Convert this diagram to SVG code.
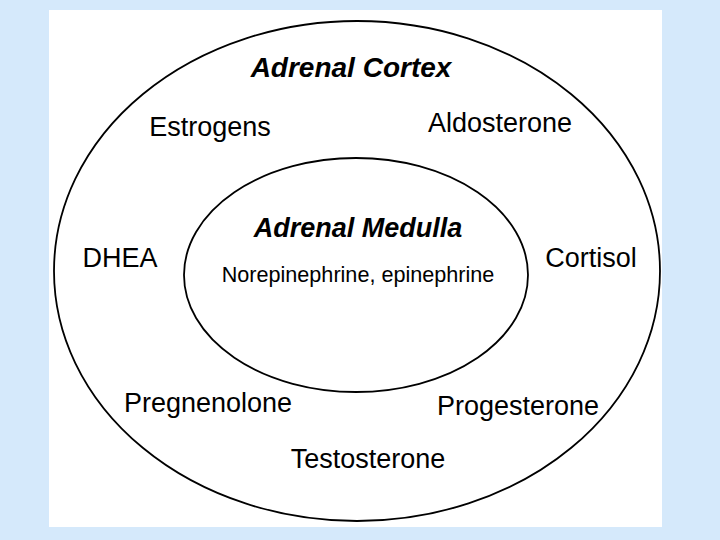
<svg xmlns="http://www.w3.org/2000/svg" width="720" height="540" viewBox="0 0 720 540">
<style>
.t{font-family:"Liberation Sans",Arial,sans-serif;font-size:27px;fill:#000;text-anchor:middle}
.h{font-family:"Liberation Sans",Arial,sans-serif;font-weight:bold;font-style:italic;fill:#000;text-anchor:middle}
.e{fill:none;stroke:#000;stroke-width:1.8}
</style>
<rect x="0" y="0" width="720" height="540" fill="#d5e9fb"/>
<rect x="49" y="10" width="613" height="517" fill="#ffffff"/>
<g id="cortex">
<ellipse class="e" cx="357" cy="271" rx="303" ry="250"/>
<text class="h" x="351" y="77" font-size="28">Adrenal Cortex</text>
</g>
<g id="medulla">
<ellipse class="e" cx="356" cy="275" rx="172" ry="117"/>
<text class="h" x="358" y="237" font-size="27">Adrenal Medulla</text>
<text class="t" x="358" y="282" style="font-size:21.6px">Norepinephrine, epinephrine</text>
</g>
<g id="estrogens"><text class="t" x="210" y="136">Estrogens</text></g>
<g id="aldosterone"><text class="t" x="500" y="132">Aldosterone</text></g>
<g id="dhea"><text class="t" x="120" y="267">DHEA</text></g>
<g id="cortisol"><text class="t" x="591" y="267">Cortisol</text></g>
<g id="pregnenolone"><text class="t" x="208" y="412">Pregnenolone</text></g>
<g id="progesterone"><text class="t" x="518" y="415">Progesterone</text></g>
<g id="testosterone"><text class="t" x="368" y="468">Testosterone</text></g>
<g id="connectors"></g>
</svg>
